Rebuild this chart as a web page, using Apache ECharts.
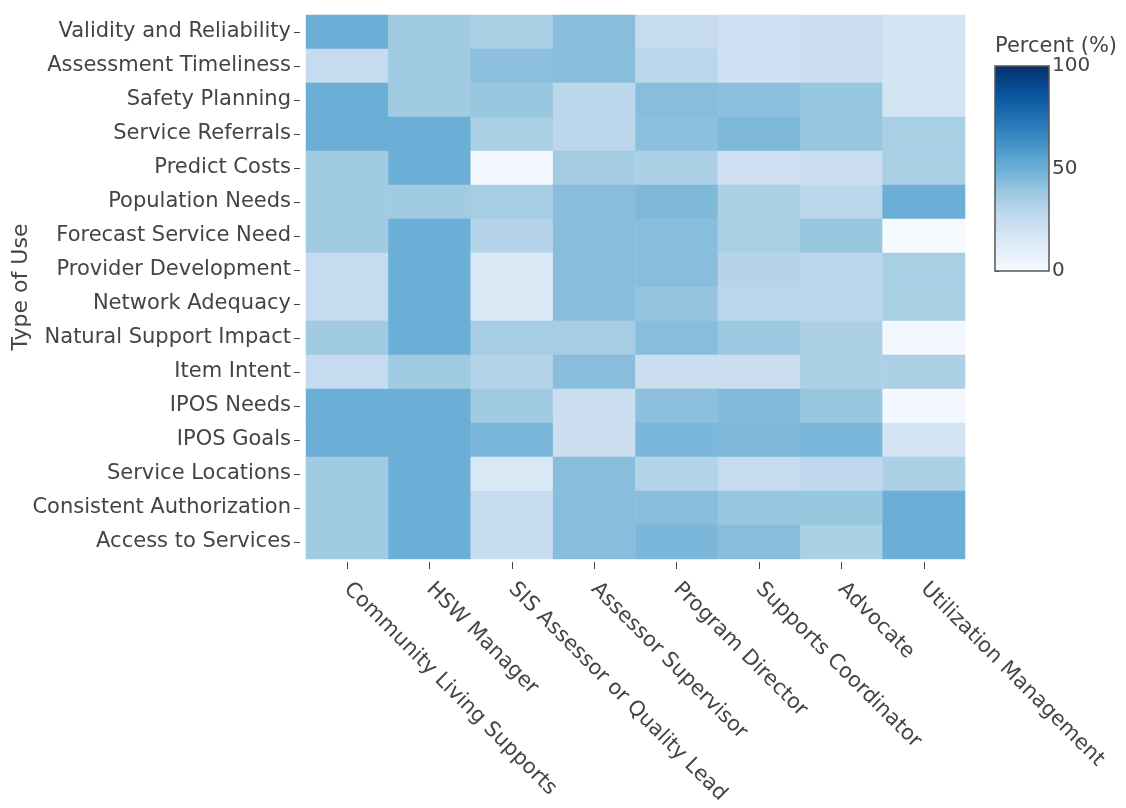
<!DOCTYPE html>
<html>
<head>
<meta charset="utf-8">
<script src="https://cdn.jsdelivr.net/npm/echarts@6/dist/echarts.min.js"></script>
<style>html,body{margin:0;padding:0;background:#fff}#c{width:1126px;height:808px}</style>
</head>
<body>
<div id="c"></div>
<script>
const roles = ["Community Living Supports","HSW Manager","SIS Assessor or Quality Lead","Assessor Supervisor","Program Director","Supports Coordinator","Advocate","Utilization Management"];
const uses = ["Validity and Reliability","Assessment Timeliness","Safety Planning","Service Referrals","Predict Costs","Population Needs","Forecast Service Need","Provider Development","Network Adequacy","Natural Support Impact","Item Intent","IPOS Needs","IPOS Goals","Service Locations","Consistent Authorization","Access to Services"];
// one row per use, one value per role (percent)
const validity      = [50,37,34,43,25,21,23,18];
const timeliness    = [25,37,42,43,29,21,23,18];
const safety        = [50,37,39,28,43,42,39,18];
const referrals     = [50,50,34,28,42,45,39,34];
const costs         = [37,50,2,36,33,21,23,34];
const population    = [37,37,35,43,45,33,28,50];
const forecast      = [37,50,30,43,43,34,39,1];
const provider      = [25,50,14,43,43,30,28,34];
const network       = [25,50,15,43,40,28,28,34];
const natural       = [37,50,35,35,43,38,33,2];
const itemIntent    = [25,37,31,43,23,23,33,33];
const iposNeeds     = [50,50,37,23,42,44,39,2];
const iposGoals     = [50,50,46,23,46,45,46,18];
const locations     = [37,50,15,43,31,25,27,33];
const consistent    = [37,50,25,43,43,39,39,50];
const access        = [37,50,24,43,46,43,33,50];
const rows = [validity,timeliness,safety,referrals,costs,population,forecast,provider,network,natural,itemIntent,iposNeeds,iposGoals,locations,consistent,access];
const colorTicks = [0,50,100];

const data = [];
rows.forEach((r, yi) => r.forEach((v, xi) => data.push([xi, yi, v])));

const font = "DejaVu Sans";
const txt = "#444";
const chart = echarts.init(document.getElementById('c'), null, {renderer:'canvas'});
chart.setOption({
  animation:false,
  backgroundColor:'#fff',
  textStyle:{fontFamily:font},
  title:{text:'Percent (%)', left:995, top:36, padding:0, textStyle:{fontFamily:font,fontSize:21,fontWeight:'normal',color:txt}},
  grid:[
    {left:306, right:161, top:15, bottom:249, outerBoundsMode:'none', containLabel:false},
    {left:995, top:66, width:54, height:205, show:true, borderColor:'#555', borderWidth:1.5, backgroundColor:'transparent', z:10, outerBoundsMode:'none', containLabel:false}
  ],
  xAxis:[
    {type:'category', data:roles, gridIndex:0, offset:3, axisLine:{show:false},
     axisTick:{show:true, length:7, alignWithLabel:true, lineStyle:{color:txt}}, splitLine:{show:false},
     axisLabel:{rotate:-45, interval:0, margin:24, fontSize:21, color:txt, fontFamily:font}},
    {type:'value', gridIndex:1, show:false, min:0, max:1}
  ],
  yAxis:[
    {type:'category', data:uses, gridIndex:0, inverse:true, offset:6, axisLine:{show:false},
     axisTick:{show:true, length:6, lineStyle:{color:txt}, alignWithLabel:true}, splitLine:{show:false},
     axisLabel:{interval:0, margin:9, fontSize:21, color:txt, fontFamily:font},
     name:'Type of Use', nameLocation:'middle', nameGap:268, nameMoveOverlap:false, nameTextStyle:{fontSize:22, color:txt, fontFamily:font}},
    {type:'value', gridIndex:1, position:'right', min:colorTicks[0], max:colorTicks[2], interval:50,
     axisLine:{show:false}, splitLine:{show:false},
     axisTick:{show:true, length:4, inside:false, lineStyle:{color:txt}},
     axisLabel:{margin:3, fontSize:20, color:txt, fontFamily:font, formatter:v=>colorTicks.includes(v)?String(v):''}}
  ],
  visualMap:{type:'continuous', min:0, max:100, calculable:false, orient:'vertical', left:995, top:66,
    itemWidth:54, itemHeight:205, padding:0, text:null, seriesIndex:0, hoverLink:false,
    inRange:{color:['#f7fbff','#deebf7','#c6dbef','#9ecae1','#6baed6','#4292c6','#2171b5','#08519c','#08306b']}},
  series:[{type:'heatmap', xAxisIndex:0, yAxisIndex:0, data:data, itemStyle:{borderWidth:0}, emphasis:{disabled:true}}]
});
</script>
</body>
</html>
